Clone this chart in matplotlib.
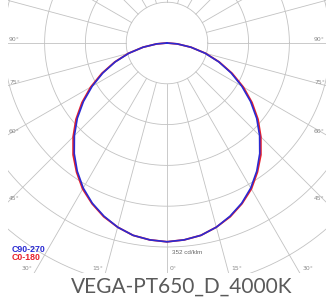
import numpy as np
import matplotlib.pyplot as plt

# photometric data (cd/klm), gamma angle from nadir
gamma = [0, 5, 10, 15, 20, 25, 30, 35, 40, 45, 50, 55, 60, 65, 70, 75, 80, 85, 90]
c0_180 = [343, 341, 337, 329, 319, 306, 291, 272, 252, 229, 205, 179, 152, 124, 96, 69, 42, 18, 0]
c90_270 = [343, 341, 337, 329, 318, 305, 289, 270, 249, 226, 202, 176, 149, 122, 95, 68, 42, 18, 0]

max_value = 352
n_rings = 5
unit_label = "352 cd/klm"
title = "VEGA-PT650_D_4000K"
left_labels = [90, 75, 60, 45]
bottom_labels = [30, 15, 0, 15, 30]
bottom_sides = [-1, -1, 0, 1, 1]
right_labels = [45, 60, 75, 90]

W, H = 329, 304
fig = plt.figure(figsize=(W / 100, H / 100), dpi=100)
fig.patch.set_facecolor("white")

# plot region in pixels and polar center
x0, x1, y_top, y_bot = 8, 326, 0, 273
cx, cy = 167, 43
ax = fig.add_axes([x0 / W, (H - y_bot) / H, (x1 - x0) / W, (y_bot - y_top) / H])
k = max_value / 204.0  # cd per pixel
xmin, xmax = (x0 - cx) * k, (x1 - cx) * k
ymin, ymax = -(y_bot - cy) * k, (cy - y_top) * k
ax.set_xlim(xmin, xmax)
ax.set_ylim(ymin, ymax)
ax.set_axis_off()

grid_c = "#c2c2c2"
step = max_value / n_rings
t = np.linspace(0, 2 * np.pi, 400)
for n in range(1, 9):
    r = step * n
    ax.plot(r * np.cos(t), r * np.sin(t), color=grid_c, lw=0.6, zorder=1)
for a in range(0, 360, 15):
    ar = np.radians(a)
    ax.plot([step * np.sin(ar), 1000 * np.sin(ar)],
            [-step * np.cos(ar), -1000 * np.cos(ar)],
            color=grid_c, lw=0.6, zorder=1)


def curve(vals):
    g = np.radians(np.array(gamma, dtype=float))
    v = np.array(vals, dtype=float)
    th = np.concatenate([-g[::-1], g[1:]])
    ii = np.concatenate([v[::-1], v[1:]])
    return ii * np.sin(th), -ii * np.cos(th)


xr, yr = curve(c0_180)
xb, yb = curve(c90_270)
ax.plot(xr, yr, color="#e8202a", lw=1.3, zorder=3)
ax.plot(xb, yb, color="#2a2ad2", lw=1.2, zorder=4)

lab_kw = dict(fontsize=4.4, color="#8a8a8a", family="DejaVu Sans")
for a in left_labels:
    ar = np.radians(a)
    y = -np.cos(ar) * (xmin / -np.sin(ar))
    ax.text(xmin + 1 * k, y + 1 * k, f"{a}°", ha="left", va="bottom", **lab_kw)
for a in right_labels:
    ar = np.radians(a)
    y = -np.cos(ar) * (xmax / np.sin(ar))
    ax.text(xmax - 1 * k, y + 1 * k, f"{a}°", ha="right", va="bottom", **lab_kw)
for a, s in zip(bottom_labels, bottom_sides):
    ar = np.radians(a)
    x = (s if s else 1) * np.sin(ar) * (ymin / -np.cos(ar))
    if s < 0:
        ax.text(x - 2 * k, ymin + 2 * k, f"{a}°", ha="right", va="bottom", **lab_kw)
    else:
        ax.text(x + 3 * k, ymin + 2 * k, f"{a}°", ha="left", va="bottom", **lab_kw)

fig.text(172 / W, 1 - 253 / H, unit_label, fontsize=4.5, color="#666666",
         family="Liberation Sans", ha="left", va="center")
fig.text(12 / W, 1 - 250 / H, "C90-270", fontsize=6.3, color="#2a2ad2",
         family="Liberation Sans", weight="bold", ha="left", va="center")
fig.text(12 / W, 1 - 258 / H, "C0-180", fontsize=6.3, color="#e8202a",
         family="Liberation Sans", weight="bold", ha="left", va="center")

fig.text(181.5 / W, 1 - 287 / H, title, fontsize=15, color="#5a5a5a",
         family="Lato", weight="normal", ha="center", va="center")

fig.savefig("out.png", dpi=100, facecolor="white")
